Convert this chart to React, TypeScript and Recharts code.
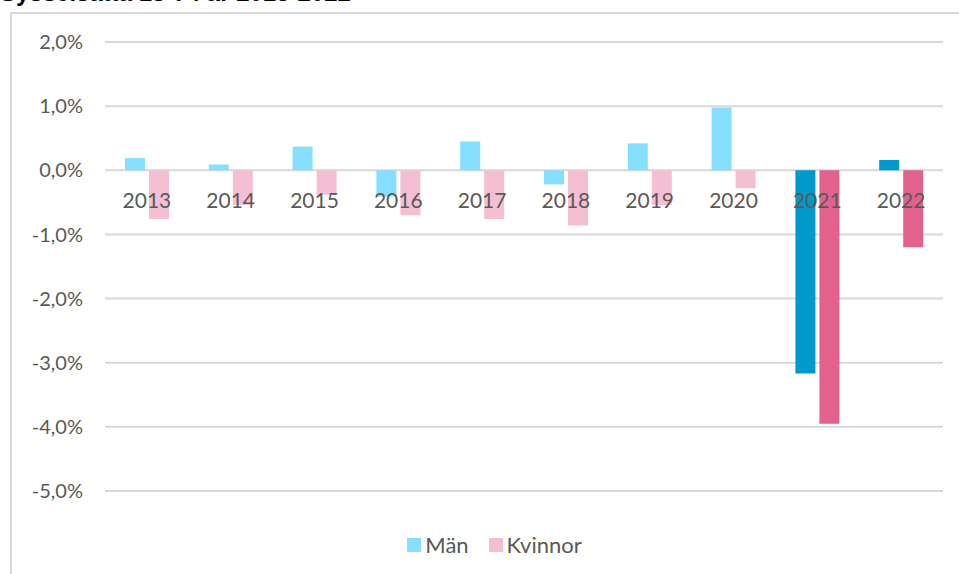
import { Bar, BarChart, CartesianGrid, Cell, Legend, XAxis, YAxis } from "recharts";

const years = ["2013", "2014", "2015", "2016", "2017", "2018", "2019", "2020", "2021", "2022"];
const man = [0.19, 0.09, 0.37, -0.41, 0.45, -0.22, 0.42, 0.98, -3.17, 0.16];
const kvinnor = [-0.76, -0.54, -0.38, -0.7, -0.76, -0.86, -0.54, -0.28, -3.95, -1.2];
const highlighted = ["2021", "2022"];
const yTicks = [2, 1, 0, -1, -2, -3, -4, -5];

const data = years.map((y, i) => ({ year: y, man: man[i], kvinnor: kvinnor[i] }));

const W = 959;
const H = 574;
const TOP = 42;
const BOTTOM = 490;
const Y_MIN = -5;
const Y_MAX = 2;
const zeroY = TOP + ((BOTTOM - TOP) * Y_MAX) / (Y_MAX - Y_MIN);

const font = "Lato, 'Open Sans', sans-serif";
const gray = "#595959";

const fmt = (v: number) => v.toFixed(1).replace(".", ",") + "%";

const YearTick = (props: any) => (
  <text x={props.x} y={zeroY + 38} textAnchor="middle" fill={gray} fontSize={21} fontFamily={font}>
    {props.payload.value}
  </text>
);

const LegendContent = () => (
  <div
    style={{
      display: "flex",
      justifyContent: "center",
      gap: 20,
      paddingLeft: 46,
      fontFamily: font,
      fontSize: 22,
      color: gray,
    }}
  >
    <span style={{ display: "flex", alignItems: "center", gap: 4 }}>
      <span style={{ width: 14, height: 14, background: "#87DFFF", display: "inline-block" }} />
      Män
    </span>
    <span style={{ display: "flex", alignItems: "center", gap: 4 }}>
      <span style={{ width: 14, height: 14, background: "#F4BFD3", display: "inline-block" }} />
      Kvinnor
    </span>
  </div>
);

export default function App() {
  return (
    <div style={{ position: "absolute", left: 0, top: 0, width: W, height: H, overflow: "hidden", background: "#fff" }}>
      <div
        style={{
          position: "absolute",
          left: 0,
          top: -19,
          fontFamily: "'Liberation Sans', Arial, sans-serif",
          fontWeight: "bold",
          fontSize: 24,
          lineHeight: "24px",
          color: "#000",
          whiteSpace: "nowrap",
        }}
      >
        Sysselsatta 15-74 år 2013-2022
      </div>
      <div
        style={{
          position: "absolute",
          left: 10,
          top: 12,
          width: 1000,
          height: 1000,
          borderLeft: "2px solid #d9d9d9",
          borderTop: "2px solid #d9d9d9",
        }}
      />
      <div style={{ position: "absolute", left: 0, top: 0 }}>
        <BarChart
          width={W}
          height={H}
          data={data}
          margin={{ top: TOP, right: 16, left: 0, bottom: 10 }}
          barSize={20}
          barGap={4}
        >
          <CartesianGrid vertical={false} stroke="#d9d9d9" strokeWidth={2} />
          <XAxis
            dataKey="year"
            axisLine={false}
            tickLine={false}
            tick={<YearTick />}
            height={40}
            interval={0}
          />
          <YAxis
            domain={[Y_MIN, Y_MAX]}
            ticks={yTicks}
            tickFormatter={fmt}
            axisLine={false}
            tickLine={false}
            tickSize={0}
            tickMargin={22}
            width={105}
            tick={{ fill: gray, fontSize: 20, fontFamily: font }}
          />
          <Legend verticalAlign="bottom" height={33} content={<LegendContent />} />
          <Bar dataKey="man" name="Män" fill="#87DFFF" isAnimationActive={false}>
            {data.map((d) => (
              <Cell key={d.year} fill={highlighted.includes(d.year) ? "#0099CC" : "#87DFFF"} />
            ))}
          </Bar>
          <Bar dataKey="kvinnor" name="Kvinnor" fill="#F4BFD3" isAnimationActive={false}>
            {data.map((d) => (
              <Cell key={d.year} fill={highlighted.includes(d.year) ? "#E2618F" : "#F4BFD3"} />
            ))}
          </Bar>
        </BarChart>
      </div>
    </div>
  );
}
